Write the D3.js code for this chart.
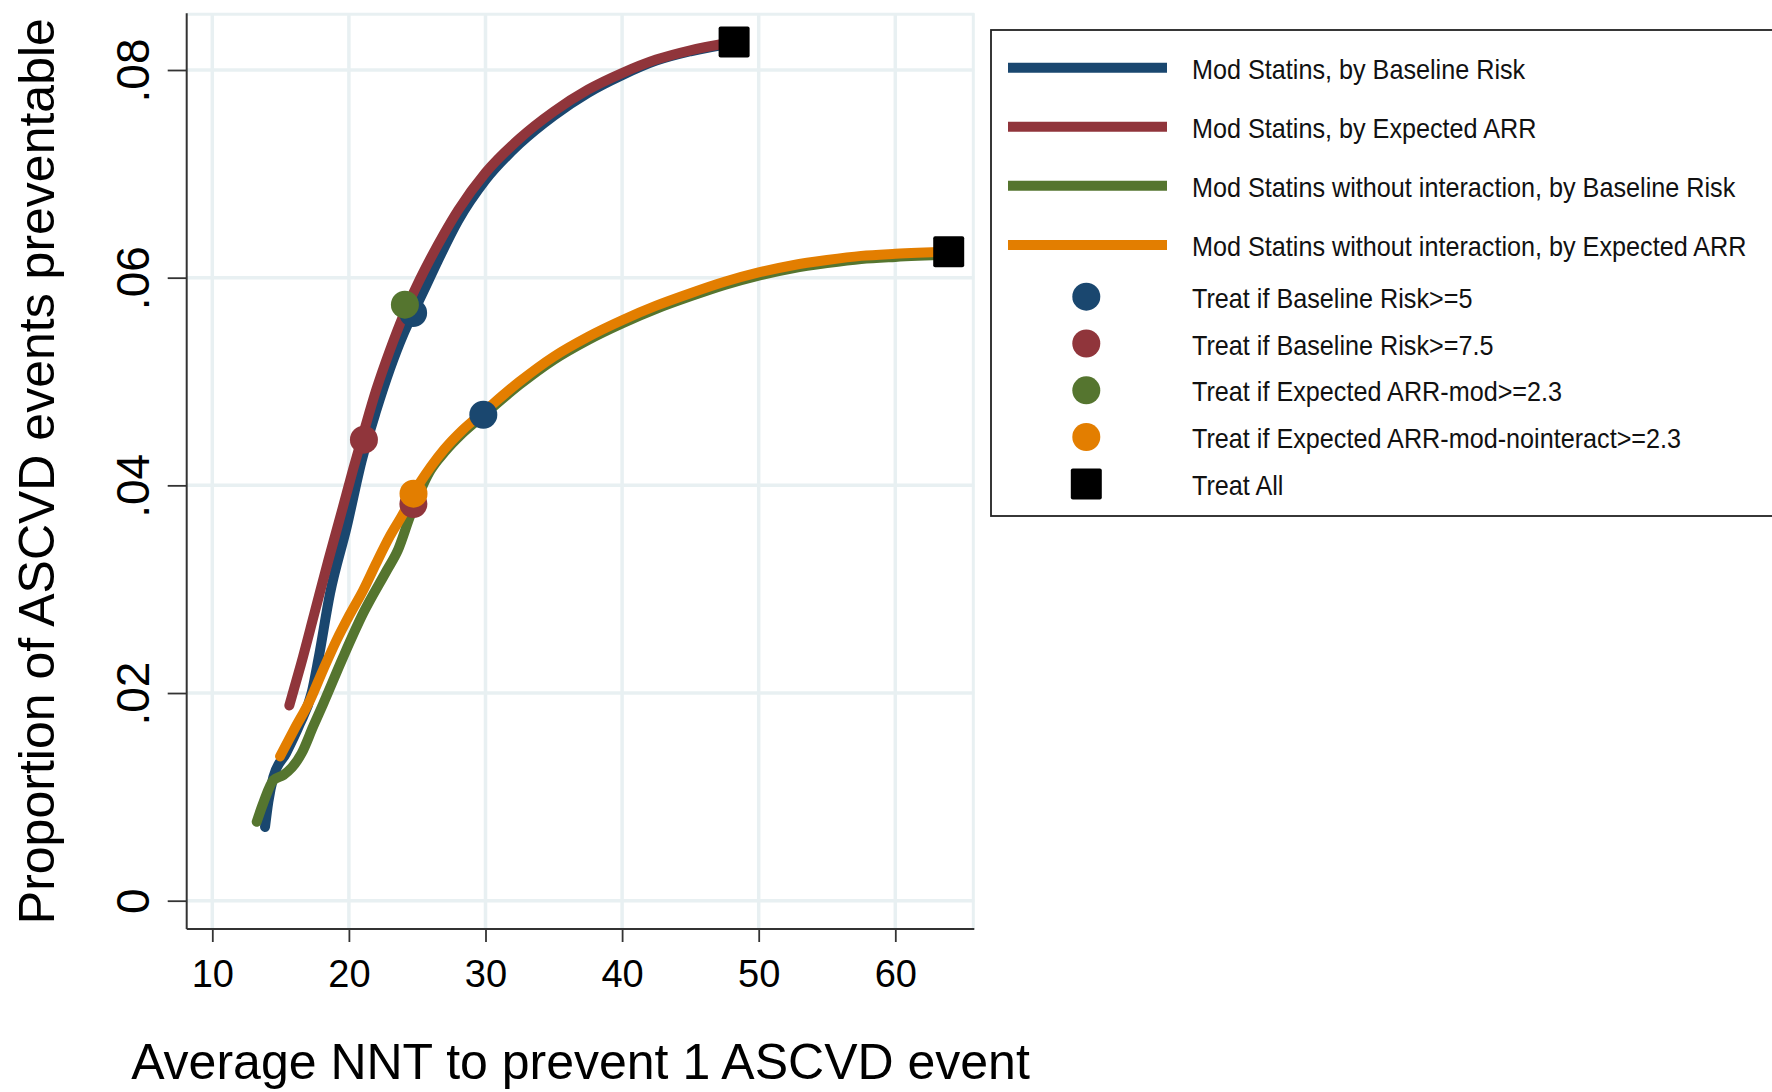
<!DOCTYPE html>
<html><head><meta charset="utf-8">
<script src="https://cdn.jsdelivr.net/npm/d3@7"></script>
<style>html,body{margin:0;padding:0;background:#fff;} svg{display:block;}</style>
</head><body>
<svg id="chart" width="1772" height="1092"></svg>
<script>
// ---------------- data ----------------
const xTicks = [10, 20, 30, 40, 50, 60];
const yTicks = [0, 0.02, 0.04, 0.06, 0.08];
const yTickLabels = ["0", ".02", ".04", ".06", ".08"];

// Mod Statins, by Baseline Risk
const modBaseX = [13.86, 14.1, 14.47, 15.4, 16.4, 17.27, 17.76, 18.62, 19.84, 20.94, 22.0, 23.0, 24.0, 24.7, 25.5, 26.5, 28.0, 30.0, 32.5, 35.0, 37.5, 40.0, 42.5, 45.0, 48.2];
const modBaseY = [0.0071, 0.0095, 0.0119, 0.0142, 0.0170, 0.0200, 0.0232, 0.0296, 0.0360, 0.0424, 0.0472, 0.0512, 0.0546, 0.0566, 0.0588, 0.0616, 0.0655, 0.0694, 0.0729, 0.0756, 0.0778, 0.0795, 0.0809, 0.0818, 0.0826];
// Mod Statins, by Expected ARR
const modArrX = [15.64, 16.5, 17.5, 18.5, 19.5, 20.32, 21.1, 22.0, 23.0, 24.0, 25.0, 26.0, 27.0, 28.0, 30.0, 32.5, 35.0, 37.5, 40.0, 42.5, 45.0, 48.2];
const modArrY = [0.0188, 0.0228, 0.0278, 0.0328, 0.0376, 0.0416, 0.0452, 0.0492, 0.0530, 0.0564, 0.0593, 0.0619, 0.0643, 0.0665, 0.0701, 0.0734, 0.0760, 0.0781, 0.0797, 0.0810, 0.0819, 0.0827];
// Mod Statins without interaction, by Baseline Risk
const noIntBaseX = [13.25, 13.73, 14.47, 15.2, 15.81, 16.54, 17.39, 18.13, 19.59, 21.05, 22.77, 23.6, 24.47, 26.0, 27.0, 28.3, 29.8, 32.5, 35, 37.5, 40, 42.5, 45, 47.5, 50, 52.5, 55, 57.5, 60, 63.91];
const noIntBaseY = [0.0076, 0.0094, 0.0116, 0.0121, 0.0128, 0.0142, 0.0168, 0.0190, 0.0235, 0.0277, 0.0318, 0.0338, 0.0370, 0.0415, 0.0432, 0.0450, 0.0467, 0.0497, 0.0521, 0.0540, 0.0556, 0.0570, 0.0582, 0.0593, 0.0602, 0.0609, 0.0614, 0.0618, 0.0620, 0.0622];
// Mod Statins without interaction, by Expected ARR
const noIntArrX = [14.96, 16.0, 17.15, 18.1, 19.1, 20.0, 21.05, 22.0, 23.0, 23.98, 24.72, 26.0, 27.0, 28.3, 29.8, 32.5, 35, 37.5, 40, 42.5, 45, 47.5, 50, 52.5, 55, 57.5, 60, 63.91];
const noIntArrY = [0.0139, 0.0165, 0.0193, 0.0222, 0.0251, 0.0274, 0.0299, 0.0325, 0.0351, 0.0373, 0.0392, 0.0418, 0.0435, 0.0453, 0.0470, 0.0500, 0.0524, 0.0543, 0.0559, 0.0573, 0.0585, 0.0596, 0.0605, 0.0612, 0.0617, 0.0621, 0.0623, 0.0625];

// Threshold markers
const base5X = [24.7, 29.84];    const base5Y = [0.0566, 0.0468];
const base75X = [21.1, 24.72];   const base75Y = [0.0444, 0.0382];
const arrModX = [24.1];          const arrModY = [0.0574];
const arrNoIntX = [24.73];       const arrNoIntY = [0.0392];
const treatAllX = [48.2, 63.91]; const treatAllY = [0.0827, 0.0625];

const lineLabels = ["Mod Statins, by Baseline Risk", "Mod Statins, by Expected ARR",
  "Mod Statins without interaction, by Baseline Risk", "Mod Statins without interaction, by Expected ARR"];
const markerLabels = ["Treat if Baseline Risk>=5", "Treat if Baseline Risk>=7.5",
  "Treat if Expected ARR-mod>=2.3", "Treat if Expected ARR-mod-nointeract>=2.3", "Treat All"];
const xTitle = "Average NNT to prevent 1 ASCVD event";
const yTitle = "Proportion of ASCVD events preventable";

// ---------------- styling ----------------
const colors = ["#1a476f", "#90353b", "#55752f", "#e37e00"];
const gridColor = "#e8f0f2";
const axisColor = "#333";
const font = "'Liberation Sans', Arial, Helvetica, sans-serif";

const svg = d3.select("#chart");
svg.append("rect").attr("width", 1772).attr("height", 1092).attr("fill", "#fff");

const plotL = 186.7, plotR = 974.3, plotT = 13.3, plotB = 929;
const x = d3.scaleLinear().domain([10, 60]).range([212.3, 895.3]);
const y = d3.scaleLinear().domain([0, 0.08]).range([900.7, 70]);

// grid
const grid = svg.append("g");
grid.selectAll("line.h").data(yTicks).join("line").attr("class", "h")
  .attr("x1", plotL).attr("x2", plotR).attr("y1", d => y(d)).attr("y2", d => y(d))
  .attr("stroke", gridColor).attr("stroke-width", 3.5);
grid.selectAll("line.v").data(xTicks).join("line").attr("class", "v")
  .attr("y1", plotT).attr("y2", plotB).attr("x1", d => x(d)).attr("x2", d => x(d))
  .attr("stroke", gridColor).attr("stroke-width", 3.5);
grid.append("line").attr("x1", plotL).attr("x2", plotR).attr("y1", plotT + 1).attr("y2", plotT + 1)
  .attr("stroke", gridColor).attr("stroke-width", 3);
grid.append("line").attr("x1", plotR - 1).attr("x2", plotR - 1).attr("y1", plotT).attr("y2", plotB)
  .attr("stroke", gridColor).attr("stroke-width", 3);

// axes
const xAxis = d3.axisBottom(x).tickValues(xTicks).tickSize(13).tickSizeOuter(0).tickPadding(18).tickFormat(d3.format("d"));
const gx = svg.append("g").attr("transform", `translate(0,${plotB})`).call(xAxis);
gx.select(".domain").remove();
gx.selectAll(".tick line").attr("stroke", axisColor).attr("stroke-width", 1.8);
gx.selectAll(".tick text").attr("font-family", font).attr("font-size", 38).attr("fill", "#000");
svg.append("line").attr("x1", plotL).attr("x2", plotR).attr("y1", plotB).attr("y2", plotB)
  .attr("stroke", axisColor).attr("stroke-width", 2);

const yAxis = d3.axisLeft(y).tickValues(yTicks).tickSize(19).tickSizeOuter(0).tickFormat((d, i) => yTickLabels[i]);
const gy = svg.append("g").attr("transform", `translate(${plotL},0)`).call(yAxis);
gy.select(".domain").remove();
gy.selectAll(".tick line").attr("stroke", axisColor).attr("stroke-width", 1.8);
gy.selectAll(".tick text").attr("font-family", font).attr("font-size", 46).attr("fill", "#000")
  .attr("transform", "rotate(-90)").attr("x", 0).attr("y", -38).attr("dy", 0).attr("text-anchor", "middle");
svg.append("line").attr("x1", plotL).attr("x2", plotL).attr("y1", plotT).attr("y2", plotB)
  .attr("stroke", axisColor).attr("stroke-width", 2);

// titles
svg.append("text").attr("x", (plotL + plotR) / 2).attr("y", 1079).attr("text-anchor", "middle")
  .attr("font-family", font).attr("font-size", 50).attr("fill", "#000").text(xTitle);
svg.append("text").attr("transform", `translate(54,${(plotT + plotB) / 2}) rotate(-90)`).attr("text-anchor", "middle")
  .attr("font-family", font).attr("font-size", 50).attr("fill", "#000").text(yTitle);

// lines
const line = d3.line().x(d => x(d[0])).y(d => y(d[1])).curve(d3.curveMonotoneX);
const series = [[modBaseX, modBaseY], [modArrX, modArrY], [noIntBaseX, noIntBaseY], [noIntArrX, noIntArrY]];
series.forEach(([xs, ys], i) => {
  svg.append("path").datum(xs.map((v, j) => [v, ys[j]]))
    .attr("d", line).attr("fill", "none").attr("stroke", colors[i]).attr("stroke-width", 10)
    .attr("stroke-linecap", "round").attr("stroke-linejoin", "round");
});

// markers
const markerSets = [[base5X, base5Y, colors[0]], [base75X, base75Y, colors[1]], [arrModX, arrModY, colors[2]], [arrNoIntX, arrNoIntY, colors[3]]];
markerSets.forEach(([xs, ys, c]) => {
  svg.append("g").selectAll("circle").data(xs.map((v, j) => [v, ys[j]])).join("circle")
    .attr("cx", d => x(d[0])).attr("cy", d => y(d[1])).attr("r", 14).attr("fill", c);
});
svg.append("g").selectAll("rect").data(treatAllX.map((v, j) => [v, treatAllY[j]])).join("rect")
  .attr("x", d => x(d[0]) - 15.5).attr("y", d => y(d[1]) - 15.5).attr("width", 31).attr("height", 31)
  .attr("rx", 2).attr("fill", "#000");

// legend
const lg = svg.append("g");
lg.append("rect").attr("x", 991).attr("y", 30).attr("width", 820).attr("height", 486)
  .attr("fill", "#fff").attr("stroke", "#222").attr("stroke-width", 1.8);
const lineRowY = [67.7, 126.7, 185.7, 245.0];
const markRowY = [296.7, 343.5, 390.3, 437.0, 484.0];
const textX = 1192;
function legText(yy, t) {
  lg.append("text").attr("transform", `translate(${textX},${yy + 11}) scale(0.9,1)`)
    .attr("font-family", font).attr("font-size", 28).attr("fill", "#111").text(t);
}
lineLabels.forEach((t, i) => {
  lg.append("line").attr("x1", 1008).attr("x2", 1167).attr("y1", lineRowY[i]).attr("y2", lineRowY[i])
    .attr("stroke", colors[i]).attr("stroke-width", 10);
  legText(lineRowY[i], t);
});
markerLabels.forEach((t, i) => {
  if (i < 4) {
    lg.append("circle").attr("cx", 1086.3).attr("cy", markRowY[i]).attr("r", 14).attr("fill", colors[i]);
  } else {
    lg.append("rect").attr("x", 1086.3 - 15.5).attr("y", markRowY[i] - 15.5).attr("width", 31).attr("height", 31)
      .attr("rx", 2).attr("fill", "#000");
  }
  legText(markRowY[i], t);
});
</script>
</body></html>
